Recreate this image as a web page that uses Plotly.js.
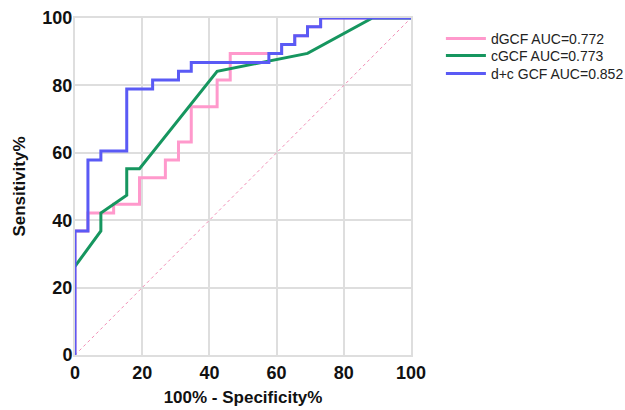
<!DOCTYPE html>
<html>
<head>
<meta charset="utf-8">
<script src="https://cdn.plot.ly/plotly-3.0.1.min.js"></script>
<style>html,body{margin:0;padding:0;background:#fff;}#chart{width:625px;height:410px;}</style>
</head>
<body>
<div id="chart"></div>
<script>
// ROC data: x = 100% - Specificity%, y = Sensitivity%
var dGCF_x = [0, 0, 3.85, 11.5, 19.2, 26.9, 30.8, 34.6, 42.3, 46.2, 61.5, 65.4, 69.2, 73.1, 100];
var dGCF_y = [0, 36.8, 42.1, 44.7, 52.6, 57.9, 63.2, 73.7, 81.6, 89.5, 92.1, 94.7, 97.4, 100, 100];

var cGCF_x = [0, 7.7, 7.7, 15.4, 15.4, 19.2, 42.3, 69.2, 88.5, 100];
var cGCF_y = [26.3, 36.8, 42.1, 47.4, 55.3, 55.3, 84.2, 89.5, 100, 100];

var dcGCF_x = [0, 0, 3.85, 7.7, 15.4, 23.1, 30.8, 34.6, 57.7, 61.5, 65.4, 69.2, 73.1, 100];
var dcGCF_y = [0, 36.8, 57.9, 60.5, 78.9, 81.6, 84.2, 86.8, 89.5, 92.1, 94.7, 97.4, 100, 100];

var refX = [0, 100];
var refY = [0, 100];

var names = ['dGCF AUC=0.772', 'cGCF AUC=0.773', 'd+c GCF AUC=0.852'];
var tickVals = [0, 20, 40, 60, 80, 100];

var FONT = 'Liberation Sans, Arial, sans-serif';

var traces = [
  {x: refX, y: refY, mode: 'lines', showlegend: false, hoverinfo: 'skip',
   line: {color: '#f28db5', width: 1, dash: 'dot'}},
  {x: dGCF_x, y: dGCF_y, mode: 'lines', name: names[0], legend: 'legend',
   line: {color: '#ff99cc', width: 3, shape: 'hv'}},
  {x: cGCF_x, y: cGCF_y, mode: 'lines', name: names[1], legend: 'legend2',
   line: {color: '#16965f', width: 3}},
  {x: dcGCF_x, y: dcGCF_y, mode: 'lines', name: names[2], legend: 'legend3',
   line: {color: '#5a5af5', width: 3, shape: 'hv'}}
];

var axisCommon = {
  range: [0, 100], tickvals: tickVals, ticks: '', showgrid: true,
  gridcolor: '#dedede', gridwidth: 2, zeroline: false,
  showline: true, linecolor: '#dedede', linewidth: 2, mirror: true,
  tickfont: {family: FONT, size: 18, color: '#111', weight: 'bold'}
};

function legendAt(y) {
  return {
    x: 1.089, xanchor: 'left', y: y, yanchor: 'middle',
    font: {family: FONT, size: 14, color: '#222'},
    bgcolor: 'rgba(0,0,0,0)', itemwidth: 40
  };
}

var layout = {
  width: 625, height: 410,
  margin: {l: 75, r: 214, t: 18, b: 55, autoexpand: false},
  paper_bgcolor: '#fff', plot_bgcolor: '#fff',
  xaxis: Object.assign({}, axisCommon, {
    title: {text: '100% - Specificity%', font: {family: FONT, size: 17, color: '#111', weight: 'bold'}, standoff: 10}
  }),
  yaxis: Object.assign({}, axisCommon, {
    ticklabelstandoff: -3,
    title: {text: 'Sensitivity%', font: {family: FONT, size: 17, color: '#111', weight: 'bold'}, standoff: 12}
  }),
  legend: legendAt(0.9377),
  legend2: legendAt(0.8872),
  legend3: legendAt(0.8338),
  showlegend: true
};

Plotly.newPlot('chart', traces, layout, {displayModeBar: false, staticPlot: true});
</script>
</body>
</html>
